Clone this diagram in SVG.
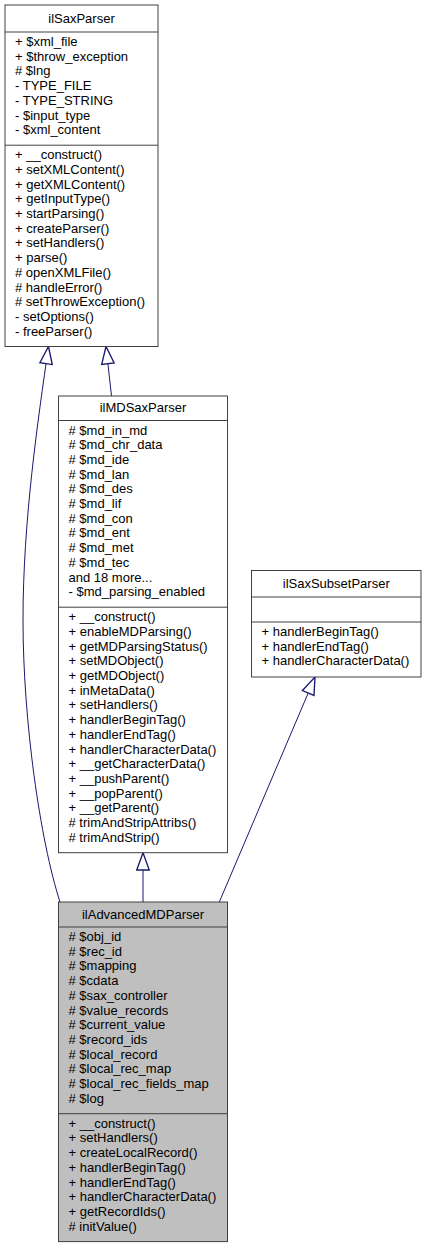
<svg xmlns="http://www.w3.org/2000/svg" width="427" height="1248" viewBox="0 0 427 1248">
<style>
.box{fill:#ffffff;stroke:#404040;stroke-width:1}
.boxg{fill:#bfbfbf;stroke:#404040;stroke-width:1}
.sep{stroke:#404040;stroke-width:1}
text{font-family:"Liberation Sans",Arial,Helvetica,sans-serif;font-size:13px;fill:#000}
.t{text-anchor:middle}
.edge{fill:none;stroke:#191970;stroke-width:1}
</style>
<defs>
<marker id="inh" markerUnits="userSpaceOnUse" markerWidth="20" markerHeight="20" refX="13" refY="0" viewBox="-1 -6 15 12" orient="auto" overflow="visible">
<path d="M0,-4.7 L13,0 L0,4.7 Z" fill="#ffffff" stroke="#191970" stroke-width="1"/>
</marker>
</defs>
<rect width="427" height="1248" fill="#ffffff"/>
<g id="connectors">
<path class="edge" d="M60,902 C40,840 23,720 23,620 C23,520 38,420 48.5,346.5" marker-end="url(#inh)"/>
<path class="edge" d="M111.5,396 L106,346.5" marker-end="url(#inh)"/>
<path class="edge" d="M143,902 L143,852.7" marker-end="url(#inh)"/>
<path class="edge" d="M219.3,902 L315,677" marker-end="url(#inh)"/>
</g>
<g id="ilSaxParser">
<rect class="box" x="5" y="5" width="153" height="341.5"/>
<line class="sep" x1="5" y1="32" x2="158" y2="32"/>
<line class="sep" x1="5" y1="145.2" x2="158" y2="145.2"/>
<text class="t" x="81.5" y="22.5">ilSaxParser</text>
<text x="15"><tspan x="15" y="46">+ $xml_file</tspan><tspan x="15" y="60.7">+ $throw_exception</tspan><tspan x="15" y="75.4"># $lng</tspan><tspan x="15" y="90.1">- TYPE_FILE</tspan><tspan x="15" y="104.8">- TYPE_STRING</tspan><tspan x="15" y="119.5">- $input_type</tspan><tspan x="15" y="134.2">- $xml_content</tspan></text>
<text x="15"><tspan x="15" y="159.2">+ __construct()</tspan><tspan x="15" y="173.9">+ setXMLContent()</tspan><tspan x="15" y="188.6">+ getXMLContent()</tspan><tspan x="15" y="203.3">+ getInputType()</tspan><tspan x="15" y="218">+ startParsing()</tspan><tspan x="15" y="232.7">+ createParser()</tspan><tspan x="15" y="247.4">+ setHandlers()</tspan><tspan x="15" y="262.1">+ parse()</tspan><tspan x="15" y="276.8"># openXMLFile()</tspan><tspan x="15" y="291.5"># handleError()</tspan><tspan x="15" y="306.2"># setThrowException()</tspan><tspan x="15" y="320.9">- setOptions()</tspan><tspan x="15" y="335.6">- freeParser()</tspan></text>
</g>
<g id="ilMDSaxParser">
<rect class="box" x="58.5" y="396" width="169" height="456.7"/>
<line class="sep" x1="58.5" y1="420.5" x2="227.5" y2="420.5"/>
<line class="sep" x1="58.5" y1="607.2" x2="227.5" y2="607.2"/>
<text class="t" x="143" y="412.3">ilMDSaxParser</text>
<text x="68.5"><tspan x="68.5" y="434.5"># $md_in_md</tspan><tspan x="68.5" y="449.2"># $md_chr_data</tspan><tspan x="68.5" y="463.9"># $md_ide</tspan><tspan x="68.5" y="478.6"># $md_lan</tspan><tspan x="68.5" y="493.3"># $md_des</tspan><tspan x="68.5" y="508"># $md_lif</tspan><tspan x="68.5" y="522.7"># $md_con</tspan><tspan x="68.5" y="537.4"># $md_ent</tspan><tspan x="68.5" y="552.1"># $md_met</tspan><tspan x="68.5" y="566.8"># $md_tec</tspan><tspan x="68.5" y="581.5">and 18 more...</tspan><tspan x="68.5" y="596.2">- $md_parsing_enabled</tspan></text>
<text x="68.5"><tspan x="68.5" y="621.2">+ __construct()</tspan><tspan x="68.5" y="635.9">+ enableMDParsing()</tspan><tspan x="68.5" y="650.6">+ getMDParsingStatus()</tspan><tspan x="68.5" y="665.3">+ setMDObject()</tspan><tspan x="68.5" y="680">+ getMDObject()</tspan><tspan x="68.5" y="694.7">+ inMetaData()</tspan><tspan x="68.5" y="709.4">+ setHandlers()</tspan><tspan x="68.5" y="724.1">+ handlerBeginTag()</tspan><tspan x="68.5" y="738.8">+ handlerEndTag()</tspan><tspan x="68.5" y="753.5">+ handlerCharacterData()</tspan><tspan x="68.5" y="768.2">+ __getCharacterData()</tspan><tspan x="68.5" y="782.9">+ __pushParent()</tspan><tspan x="68.5" y="797.6">+ __popParent()</tspan><tspan x="68.5" y="812.3">+ __getParent()</tspan><tspan x="68.5" y="827"># trimAndStripAttribs()</tspan><tspan x="68.5" y="841.7"># trimAndStrip()</tspan></text>
</g>
<g id="ilSaxSubsetParser">
<rect class="box" x="251.5" y="570.5" width="169.5" height="106.5"/>
<line class="sep" x1="251.5" y1="597" x2="421" y2="597"/>
<line class="sep" x1="251.5" y1="622" x2="421" y2="622"/>
<text class="t" x="336.25" y="587.5">ilSaxSubsetParser</text>
<text x="261.5"><tspan x="261.5" y="636">+ handlerBeginTag()</tspan><tspan x="261.5" y="650.7">+ handlerEndTag()</tspan><tspan x="261.5" y="665.4">+ handlerCharacterData()</tspan></text>
</g>
<g id="ilAdvancedMDParser">
<rect class="boxg" x="58.5" y="902" width="169" height="339.6"/>
<line class="sep" x1="58.5" y1="927" x2="227.5" y2="927"/>
<line class="sep" x1="58.5" y1="1113.7" x2="227.5" y2="1113.7"/>
<text class="t" x="143" y="918.5">ilAdvancedMDParser</text>
<text x="68.5"><tspan x="68.5" y="941"># $obj_id</tspan><tspan x="68.5" y="955.7"># $rec_id</tspan><tspan x="68.5" y="970.4"># $mapping</tspan><tspan x="68.5" y="985.1"># $cdata</tspan><tspan x="68.5" y="999.8"># $sax_controller</tspan><tspan x="68.5" y="1014.5"># $value_records</tspan><tspan x="68.5" y="1029.2"># $current_value</tspan><tspan x="68.5" y="1043.9"># $record_ids</tspan><tspan x="68.5" y="1058.6"># $local_record</tspan><tspan x="68.5" y="1073.3"># $local_rec_map</tspan><tspan x="68.5" y="1088"># $local_rec_fields_map</tspan><tspan x="68.5" y="1102.7"># $log</tspan></text>
<text x="68.5"><tspan x="68.5" y="1127.7">+ __construct()</tspan><tspan x="68.5" y="1142.4">+ setHandlers()</tspan><tspan x="68.5" y="1157.1">+ createLocalRecord()</tspan><tspan x="68.5" y="1171.8">+ handlerBeginTag()</tspan><tspan x="68.5" y="1186.5">+ handlerEndTag()</tspan><tspan x="68.5" y="1201.2">+ handlerCharacterData()</tspan><tspan x="68.5" y="1215.9">+ getRecordIds()</tspan><tspan x="68.5" y="1230.6"># initValue()</tspan></text>
</g>
</svg>
